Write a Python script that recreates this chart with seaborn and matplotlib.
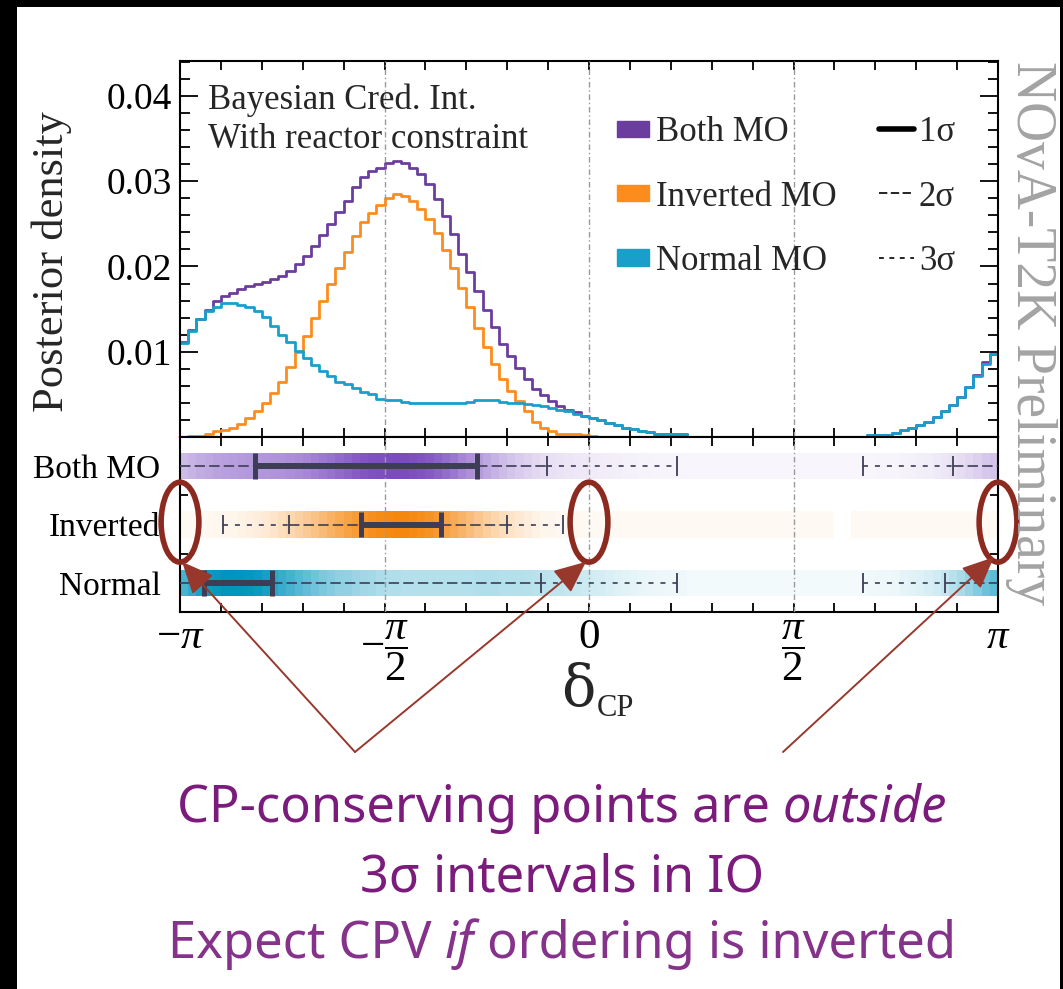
import numpy as np
import pandas as pd
import matplotlib
matplotlib.use("Agg")
import matplotlib.pyplot as plt
import seaborn as sns
from matplotlib.colors import LinearSegmentedColormap, Normalize, to_rgb
from matplotlib.patches import Ellipse, Patch, Rectangle
from matplotlib.lines import Line2D
from matplotlib.ticker import MultipleLocator, FixedLocator

# ---------------------------------------------------------------------------
# Posterior density of delta_CP, 100 bins over [-pi, pi]
# ---------------------------------------------------------------------------
N_BINS = 100

both_mo = [
    0.0112, 0.0126, 0.0138, 0.0149, 0.0159, 0.0165, 0.0169, 0.0173, 0.0177, 0.0180,
    0.0182, 0.0185, 0.0189, 0.0195, 0.0203, 0.0212, 0.0224, 0.0237, 0.0250, 0.0264,
    0.0277, 0.0293, 0.0305, 0.0312, 0.0316, 0.0321, 0.0324, 0.0321, 0.0316, 0.0308,
    0.0297, 0.0279, 0.0259, 0.0238, 0.0215, 0.0193, 0.0171, 0.0149, 0.0129, 0.0109,
    0.0095, 0.0081, 0.0068, 0.0056, 0.0049, 0.0042, 0.0036, 0.0032, 0.0029, 0.0025,
    0.0022, 0.0020, 0.0017, 0.0014, 0.0011, 0.0009, 0.0007, 0.0006, 0.0004, 0.0003,
    0.0003, 0.0003, 0.00003, 0.00003, 0.00003, 0.00003, 0.00003, 0.00003, 0.00003, 0.00003,
    0.00003, 0.00003, 0.00003, 0.00003, 0.00003, 0.00003, 0.00003, 0.00003, 0.00003, 0.00003,
    0.00003, 0.00003, 0.00003, 0.00003, 0.00025, 0.00027, 0.00029, 0.00046, 0.00086, 0.0011,
    0.0014, 0.0018, 0.0023, 0.0031, 0.0038, 0.0047, 0.0059, 0.0073, 0.0088, 0.0097,
]

inverted_mo = [
    0.00003, 0.00008, 0.00015, 0.00033, 0.00065, 0.00084, 0.0011, 0.0015, 0.0022, 0.0030,
    0.0040, 0.0052, 0.0065, 0.0082, 0.0100, 0.0119, 0.0139, 0.0159, 0.0179, 0.0198,
    0.0217, 0.0236, 0.0252, 0.0263, 0.0272, 0.0280, 0.0285, 0.0283, 0.0277, 0.0267,
    0.0256, 0.0239, 0.0219, 0.0198, 0.0175, 0.0152, 0.0128, 0.0106, 0.0086, 0.0068,
    0.0054, 0.0042, 0.0030, 0.0018, 0.0011, 0.0007, 0.0004, 0.0003, 0.0003, 0.0002,
    0.0001, 0.00002, 0.00002, 0.00002, 0.00002, 0.00002, 0.00002, 0.00002, 0.00002, 0.00002,
    0.00002, 0.00002, 0.00002, 0.00002, 0.00002, 0.00002, 0.00002, 0.00002, 0.00002, 0.00002,
    0.00002, 0.00002, 0.00002, 0.00002, 0.00001, 0.00001, 0.00001, 0.00001, 0.00001, 0.00001,
    0.0, 0.0, 0.00001, 0.00001, 0.00001, 0.00001, 0.00001, 0.00001, 0.00001, 0.00001,
    0.00001, 0.00001, 0.00001, 0.00001, 0.00001, 0.00001, 0.00001, 0.00001, 0.00001, 0.00001,
]

normal_mo = [
    0.0110, 0.0124, 0.0138, 0.0148, 0.0152, 0.0157, 0.0157, 0.0155, 0.0153, 0.0148,
    0.0141, 0.0130, 0.0120, 0.0111, 0.0101, 0.0093, 0.0084, 0.0077, 0.0071, 0.0065,
    0.0062, 0.0057, 0.0053, 0.0050, 0.0045, 0.0043, 0.0043, 0.0041, 0.0040, 0.0040,
    0.0040, 0.0040, 0.0040, 0.0040, 0.0040, 0.0041, 0.0043, 0.0043, 0.0043, 0.0041,
    0.0040, 0.0040, 0.0039, 0.0037, 0.0036, 0.0034, 0.0032, 0.0030, 0.0027, 0.0025,
    0.0022, 0.0020, 0.0017, 0.0014, 0.0011, 0.0009, 0.0007, 0.0006, 0.0004, 0.0003,
    0.0003, 0.0003, 0.00002, 0.00002, 0.00002, 0.00002, 0.00002, 0.00002, 0.00002, 0.00002,
    0.00002, 0.00002, 0.00002, 0.00002, 0.00002, 0.00002, 0.00002, 0.00002, 0.00002, 0.00002,
    0.00002, 0.00002, 0.00002, 0.00002, 0.00024, 0.00026, 0.00028, 0.00045, 0.00085, 0.0011,
    0.0014, 0.0018, 0.0023, 0.0031, 0.0038, 0.0047, 0.0059, 0.0072, 0.0086, 0.0097,
]

# Highest-posterior-density intervals, in units of pi (wrapping ones split at +-pi)
both_1s = [(-0.817, -0.274)]
both_2s = [(-1.0, -0.103), (0.890, 1.0)]
both_3s = [(-1.0, 0.215), (0.670, 1.0)]
inv_1s = [(-0.557, -0.362)]
inv_2s = [(-0.733, -0.200)]
inv_3s = [(-0.895, -0.064)]
nor_1s = [(-0.941, -0.775)]
nor_2s = [(-1.0, -0.117), (0.870, 1.0)]
nor_3s = [(-1.0, 0.215), (0.670, 1.0)]

row_labels = ["Both MO", "Inverted", "Normal"]
legend_labels = ["Both MO", "Inverted MO", "Normal MO"]
sigma_labels = ["1σ", "2σ", "3σ"]
x_tick_labels = [r"$-\pi$", r"$-\dfrac{\pi}{2}$", "0", r"$\dfrac{\pi}{2}$", r"$\pi$"]

# ---------------------------------------------------------------------------
# Style
# ---------------------------------------------------------------------------
c_both, c_inv, c_nor = "#6a3d9e", "#fd8c1e", "#1a9fcb"
band_both, band_inv, band_nor = "#7a4bc0", "#f5870e", "#0094be"
interval_color = "#3d3d55"
mark_color = "#8c2a20"
note_color = "#7b1b7b"

sns.set_theme(style="ticks")
plt.rcParams.update({
    "font.family": ["Liberation Serif", "DejaVu Serif"],
    "mathtext.fontset": "custom",
    "mathtext.rm": "Liberation Serif",
    "mathtext.it": "Liberation Serif:italic",
    "mathtext.bf": "Liberation Serif:bold",
    "xtick.direction": "in",
    "ytick.direction": "in",
    "xtick.top": True,
    "ytick.right": True,
    "axes.linewidth": 1.5,
    "axes.edgecolor": "black",
    "xtick.color": "black",
    "ytick.color": "black",
    "lines.scale_dashes": False,
})

W, H = 1063, 989
fig = plt.figure(figsize=(W / 100, H / 100), dpi=100, facecolor="black")
fig.add_artist(Rectangle((17 / W, 0), (1060 - 17) / W, (H - 7) / H,
                         transform=fig.transFigure, facecolor="white",
                         edgecolor="none", zorder=-5))


def fpos(x, y):
    return x / W, 1 - y / H


left, right = 180, 998
ax1 = fig.add_axes([left / W, 1 - 437 / H, (right - left) / W, (437 - 61) / H])
ax2 = fig.add_axes([left / W, 1 - 612 / H, (right - left) / W, (612 - 437) / H], sharex=ax1)

edges = np.linspace(-np.pi, np.pi, N_BINS + 1)
centers = 0.5 * (edges[:-1] + edges[1:])
posterior = pd.DataFrame({
    "delta": np.tile(centers, 3),
    "density": np.concatenate([both_mo, inverted_mo, normal_mo]),
    "ordering": np.repeat(["Both MO", "Inverted MO", "Normal MO"], N_BINS),
})

# ---------------------------------------------------------------------------
# Upper panel: posterior densities
# ---------------------------------------------------------------------------
for name, col in [("Both MO", c_both), ("Inverted MO", c_inv), ("Normal MO", c_nor)]:
    sns.histplot(data=posterior[posterior["ordering"] == name], x="delta", weights="density",
                 bins=list(edges), element="step", fill=False,
                 color=col, linewidth=2.0, ax=ax1)

ax1.set_xlim(-np.pi, np.pi)
ax1.set_ylim(0, 0.0441)
ax1.set_ylabel("")
ax1.set_xlabel("")
ax1.yaxis.set_major_locator(FixedLocator([0.01, 0.02, 0.03, 0.04]))
ax1.yaxis.set_minor_locator(MultipleLocator(0.002))
ax1.set_yticklabels(["0.01", "0.02", "0.03", "0.04"])
ax1.tick_params(axis="y", which="major", length=13, width=1.3, labelsize=27, pad=6)
ax1.tick_params(axis="y", which="minor", length=7, width=1.3)
ax1.tick_params(axis="x", which="both", length=6.5, width=1.3, labelbottom=False)
ax1.xaxis.set_major_locator(FixedLocator(np.pi * np.array([-1, -0.5, 0, 0.5, 1])))
ax1.xaxis.set_minor_locator(FixedLocator(np.pi * np.arange(-1, 1.01, 0.1)))

for xv in (-np.pi / 2, 0, np.pi / 2):
    for ax in (ax1, ax2):
        ax.axvline(xv, color="#9a9a9a", lw=1.0, ls=(0, (4, 2, 1, 2)), zorder=3)

ax1.text(0.034, 0.94, "Bayesian Cred. Int.\nWith reactor constraint",
         transform=ax1.transAxes, fontsize=25, va="top", ha="left", linespacing=1.22)

h_mo = [Patch(facecolor=c, edgecolor=c) for c in (c_both, c_inv, c_nor)]
leg1 = ax1.legend(h_mo, legend_labels, loc="upper left", bbox_to_anchor=((617 - left) / 818, 0.853),
                  frameon=False, fontsize=25, handlelength=0.92, handleheight=0.35,
                  handletextpad=0.2, labelspacing=0.9, borderpad=0, borderaxespad=0)
ax1.add_artist(leg1)
h_sig = [Line2D([], [], color="black", lw=4.0),
         Line2D([], [], color="black", lw=1.2, ls=(0, (6, 2.5))),
         Line2D([], [], color="black", lw=1.2, ls=(0, (3.5, 4)))]
ax1.legend(h_sig, sigma_labels, loc="upper left", bbox_to_anchor=((879 - left) / 818, 0.853),
           frameon=False, fontsize=25, handlelength=1.0, handletextpad=0.15,
           labelspacing=0.9, borderpad=0, borderaxespad=0)

# ---------------------------------------------------------------------------
# Lower panel: density strips with credible intervals
# ---------------------------------------------------------------------------


def tint_map(color, floor=0.05):
    rgb = np.array(to_rgb(color))
    light = 1 - floor * (1 - rgb)
    return LinearSegmentedColormap.from_list("strip", [light, rgb])


def subtract(intervals, holes):
    out = []
    for a, b in intervals:
        pieces = [(a, b)]
        for c, d in holes:
            nxt = []
            for p, q in pieces:
                if d <= p or c >= q:
                    nxt.append((p, q))
                    continue
                if c > p:
                    nxt.append((p, c))
                if d < q:
                    nxt.append((d, q))
            pieces = nxt
        out.extend(pieces)
    return out


rows = [
    (both_mo, band_both, both_1s, both_2s, both_3s),
    (inverted_mo, band_inv, inv_1s, inv_2s, inv_3s),
    (normal_mo, band_nor, nor_1s, nor_2s, nor_3s),
]
half_band = 0.225
for r, (vals, col, s1, s2, s3) in enumerate(rows):
    arr = np.ma.masked_equal(np.asarray(vals, dtype=float)[None, :], 0.0)
    ax2.pcolormesh(edges, [r - half_band, r + half_band], arr, cmap=tint_map(col),
                   norm=Normalize(0, max(vals)), shading="flat", zorder=1)

    for a, b in subtract(s3, s2):
        ax2.hlines(r, a * np.pi, b * np.pi, color=interval_color, lw=1.2,
                   linestyles=[(0, (3.6, 5.0))], zorder=5)
    for a, b in subtract(s2, s1):
        ax2.hlines(r, a * np.pi, b * np.pi, color=interval_color, lw=1.2,
                   linestyles=[(0, (7.5, 3.0))], zorder=5)
    for a, b in s1:
        ax2.hlines(r, a * np.pi, b * np.pi, color=interval_color, lw=4.3, zorder=6)
        ax2.vlines([a * np.pi, b * np.pi], r - 0.22, r + 0.22, color=interval_color, lw=3.6, zorder=6)
    for ivs in (s2, s3):
        ends = [e for iv in ivs for e in iv if abs(abs(e) - 1.0) > 1e-9]
        ax2.vlines(np.array(ends) * np.pi, r - 0.17, r + 0.17, color=interval_color, lw=1.3, zorder=6)

ax2.set_ylim(2.5, -0.5)
ax2.set_yticks([0, 1, 2])
ax2.set_yticklabels(row_labels)
ax2.yaxis.set_minor_locator(FixedLocator([0.5, 1.5]))
ax2.tick_params(axis="y", which="major", length=0, labelsize=24, pad=14)
ax2.tick_params(axis="y", which="minor", length=6, width=1.3)
ax2.xaxis.set_major_locator(FixedLocator(np.pi * np.array([-1, -0.5, 0, 0.5, 1])))
ax2.xaxis.set_minor_locator(FixedLocator(np.pi * np.arange(-1, 1.01, 0.1)))
ax2.set_xticklabels(x_tick_labels)
ax2.tick_params(axis="x", which="both", length=6.5, width=1.3, labelsize=31, pad=5)
ax2.set_xlim(-np.pi, np.pi)
ax2.set_xlabel("")

fig.text(*fpos(52, 262), "Posterior density", rotation=90, fontsize=32, ha="center", va="center")
fig.text(*fpos(595, 706), "δ", fontsize=41, family="DejaVu Serif", ha="right", va="baseline")
fig.text(*fpos(597, 716), "CP", fontsize=22, ha="left", va="baseline")
fig.text(*fpos(1031, 333), "NOvA-T2K Preliminary", rotation=270, fontsize=40,
         color="#a3a3a3", ha="center", va="center")

# ---------------------------------------------------------------------------
# Annotation: CP-conserving points on the inverted-ordering strip
# ---------------------------------------------------------------------------
for xc in (-np.pi, 0.0, np.pi):
    ax2.add_patch(Ellipse((xc, 0.96), width=0.29, height=1.37, fill=False, ec=mark_color,
                          lw=4.0, clip_on=False, zorder=20))

arrow_kw = dict(arrowstyle="-|>,head_length=0.9,head_width=0.4", color="#98382c", lw=1.4,
                mutation_scale=22, shrinkA=0, shrinkB=0)
for tail, head in [((355, 752), (-0.995 * np.pi, 1.64)),
                   ((355, 752), (-0.023, 1.64)),
                   ((783, 752), (0.990 * np.pi, 1.56))]:
    ax2.annotate("", xy=head, xycoords="data", xytext=fpos(*tail), textcoords="figure fraction",
                 arrowprops=arrow_kw, annotation_clip=False, zorder=21)

renderer = fig.canvas.get_renderer()


def note_line(parts, baseline, color, size):
    texts = [fig.text(0, 1 - baseline / H, s, fontsize=size, color=color, family="Noto Sans",
                      style=st, ha="left", va="baseline") for s, st in parts]
    widths = [t.get_window_extent(renderer).width for t in texts]
    x0 = 562 - sum(widths) / 2
    for t, w in zip(texts, widths):
        t.set_x(x0 / W)
        x0 += w


note_line([("CP-conserving points are ", "normal"), ("outside", "italic")], 822, note_color, 36.5)
note_line([("3σ intervals in IO", "normal")], 892, note_color, 36.5)
note_line([("Expect CPV ", "normal"), ("if", "italic"), (" ordering is inverted", "normal")],
          958, "#85328a", 36.5)

fig.savefig("out.png", dpi=100, facecolor=fig.get_facecolor())
